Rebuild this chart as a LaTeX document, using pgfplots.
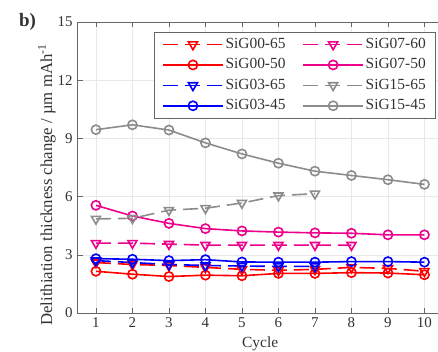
\documentclass[border=0pt]{standalone}
\usepackage{fontspec}
\setmainfont{Liberation Serif}
\usepackage{pgfplots}
\pgfplotsset{compat=1.18}
\definecolor{mygray}{rgb}{0.55,0.55,0.55}
\definecolor{axgray}{rgb}{0.4,0.4,0.4}
\definecolor{txtgray}{rgb}{0.2,0.2,0.2}
\begin{document}
\fontsize{14.5}{17}\selectfont
\begin{tikzpicture}
\path[use as bounding box] (-77.7bp,-39bp) rectangle (360.3bp,313bp);
\clip (-77.7bp,-39bp) rectangle (360.3bp,313bp);
\begin{axis}[
  at={(0,0)}, anchor=south west,
  scale only axis, width=365bp, height=291bp,
  xmin=0.5, xmax=10.5, ymin=0, ymax=15,
  xtick={1,...,10}, ytick={0,3,...,15},
  grid=major, major grid style={gray!18, line width=0.6bp},
  tick align=inside, major tick length=5bp,
  tick style={axgray, line width=0.6bp},
  axis line style={axgray, line width=0.8bp},
  /pgf/number format/assume math mode=true,
  tick label style={font=\fontsize{15}{18}\selectfont, text=txtgray},
  xlabel={Cycle},
  ylabel={Delithiation thickness change / µm mAh\textsuperscript{-1}},
  every axis x label/.style={at={(axis description cs:0.5,0)}, yshift=-31bp, anchor=center, font=\fontsize{15.5}{18}\selectfont, text=txtgray},
  every axis y label/.style={at={(axis description cs:-0.084,0.44)}, rotate=90, anchor=center, font=\fontsize{16.8}{19}\selectfont, text=txtgray},
  legend columns=2,
  legend cell align=left,
  legend style={at={(axis description cs:0.209,0.966)}, anchor=north west,
    draw=axgray, line width=0.8bp, font=\fontsize{15.5}{18}\selectfont, text=txtgray,
    /tikz/every even column/.append style={column sep=15bp},
    row sep=4bp, inner xsep=8bp, inner ysep=4bp,
    nodes={inner xsep=2bp}},
  legend image code/.code={\draw[mark repeat=2,mark phase=2] plot coordinates {(0cm,0cm)(1.05cm,0cm)(2.1cm,0cm)};},
  circ/.style={line width=1.6bp, mark=o, mark size=4.6bp, mark options={solid}},
  tri/.style={line width=1.6bp, mark=triangle, mark size=5.2bp, mark options={solid, rotate=180}, dash pattern=on 15bp off 7bp},
]
\addplot[red, tri] coordinates {(1,2.6)(2,2.5)(3,2.45)(4,2.35)(5,2.25)(6,2.2)(7,2.25)(8,2.35)(9,2.3)(10,2.15)};
\addlegendentry{SiG00-65}
\addplot[magenta, tri] coordinates {(1,3.6)(2,3.6)(3,3.55)(4,3.5)(5,3.5)(6,3.5)(7,3.5)(8,3.5)};
\addlegendentry{SiG07-60}
\addplot[red, circ] coordinates {(1,2.15)(2,2.0)(3,1.88)(4,1.95)(5,1.92)(6,2.04)(7,2.04)(8,2.08)(9,2.06)(10,1.97)};
\addlegendentry{SiG00-50}
\addplot[magenta, circ] coordinates {(1,5.55)(2,5.0)(3,4.62)(4,4.35)(5,4.23)(6,4.17)(7,4.13)(8,4.11)(9,4.03)(10,4.03)};
\addlegendentry{SiG07-50}
\addplot[blue, tri] coordinates {(1,2.7)(2,2.6)(3,2.5)(4,2.45)(5,2.42)(6,2.4)(7,2.4)};
\addlegendentry{SiG03-65}
\addplot[mygray, tri] coordinates {(1,4.85)(2,4.88)(3,5.3)(4,5.4)(5,5.67)(6,6.05)(7,6.15)};
\addlegendentry{SiG15-65}
\addplot[blue, circ] coordinates {(1,2.8)(2,2.77)(3,2.7)(4,2.75)(5,2.63)(6,2.62)(7,2.62)(8,2.65)(9,2.65)(10,2.62)};
\addlegendentry{SiG03-45}
\addplot[mygray, circ] coordinates {(1,9.45)(2,9.7)(3,9.43)(4,8.77)(5,8.2)(6,7.72)(7,7.31)(8,7.09)(9,6.87)(10,6.63)};
\addlegendentry{SiG15-45}
\end{axis}
\node[font=\bfseries\fontsize{19}{22}\selectfont, text=txtgray] at (-50.2bp,291.5bp) {b)};
\end{tikzpicture}
\end{document}
